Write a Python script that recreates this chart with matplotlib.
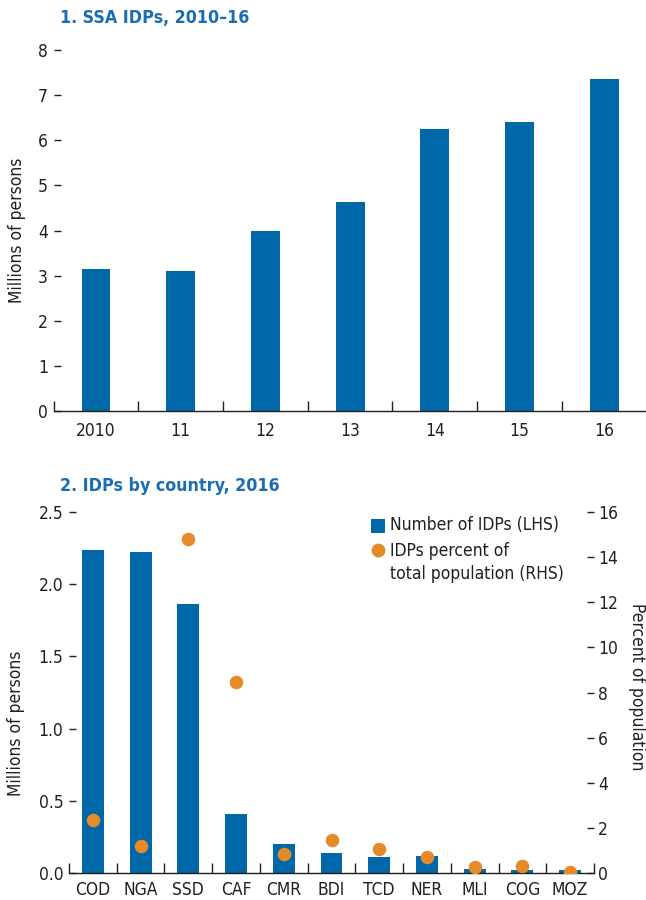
import matplotlib
matplotlib.use("Agg")
import matplotlib.pyplot as plt
import numpy as np

# Panel 1: SSA internally displaced persons, millions
years = ["2010", "11", "12", "13", "14", "15", "16"]
idps_total = [3.15, 3.10, 4.00, 4.63, 6.26, 6.40, 7.35]

# Panel 2: IDPs by country, 2016
countries = ["COD", "NGA", "SSD", "CAF", "CMR", "BDI", "TCD", "NER", "MLI", "COG", "MOZ"]
idps_millions = [2.24, 2.22, 1.86, 0.41, 0.20, 0.14, 0.11, 0.12, 0.03, 0.02, 0.02]
idps_percent = [2.35, 1.20, 14.8, 8.45, 0.85, 1.48, 1.05, 0.70, 0.25, 0.32, 0.05]

BLUE = "#0068a8"
ORANGE = "#e58a28"
TITLE = "#1a6db0"
TEXT = "#231f20"

plt.rcParams["font.family"] = ["DejaVu Sans"]
plt.rcParams["font.stretch"] = "condensed"
plt.rcParams["font.size"] = 12.5
plt.rcParams["text.color"] = TEXT
plt.rcParams["axes.labelcolor"] = TEXT
plt.rcParams["xtick.color"] = TEXT
plt.rcParams["ytick.color"] = TEXT

fig = plt.figure(figsize=(6.46, 9.0), dpi=100)


def style_axis(ax, n):
    for side in ("left", "right", "top"):
        ax.spines[side].set_visible(False)
    ax.spines["bottom"].set_color(TEXT)
    ax.spines["bottom"].set_linewidth(1.0)
    ax.set_xlim(-0.5, n - 0.5)
    # tick marks sit on category boundaries, labels under categories
    ax.set_xticks(np.arange(n + 1) - 0.5)
    ax.set_xticklabels([])
    ax.tick_params(axis="x", which="major", direction="in", length=7, width=1)
    ax.tick_params(axis="y", direction="in", length=5, width=1, pad=4)


# --- top panel ---
ax1 = fig.add_axes([53.6 / 646, 1 - 411 / 900, 593 / 646, 361 / 900])
x1 = np.arange(len(years))
ax1.bar(x1, idps_total, width=0.34, color=BLUE)
style_axis(ax1, len(years))
ax1.set_xticks(x1, minor=True)
ax1.set_xticklabels(years, minor=True)
ax1.tick_params(axis="x", which="minor", length=0, pad=8)
ax1.set_ylim(0, 8)
ax1.set_yticks(range(0, 9))
ax1.set_ylabel("Millions of persons")
ax1.yaxis.set_label_coords(-0.047, 0.5)
fig.text(60 / 646, 1 - 18 / 900, "1. SSA IDPs, 2010\u201316", color=TITLE,
         fontsize=12.8, fontweight="bold", ha="left", va="center")

# --- bottom panel ---
ax2 = fig.add_axes([69 / 646, 1 - 873 / 900, 525 / 646, 361 / 900])
x2 = np.arange(len(countries))
ax2.bar(x2, idps_millions, width=0.46, color=BLUE, zorder=2)
style_axis(ax2, len(countries))
ax2.set_xticks(x2, minor=True)
ax2.set_xticklabels(countries, minor=True)
ax2.tick_params(axis="x", which="minor", length=0, pad=6)
ax2.set_ylim(0, 2.5)
ax2.set_yticks(np.arange(0, 2.51, 0.5))
ax2.set_yticklabels([f"{v:.1f}" for v in np.arange(0, 2.51, 0.5)])
ax2.set_ylabel("Millions of persons")
ax2.yaxis.set_label_coords(-0.083, 0.415)

ax3 = ax2.twinx()
for side in ("left", "right", "top", "bottom"):
    ax3.spines[side].set_visible(False)
ax3.scatter(x2, idps_percent, s=95, color=ORANGE, zorder=3, linewidths=0)
ax3.set_ylim(0, 16)
ax3.set_yticks(range(0, 17, 2))
ax3.tick_params(axis="y", direction="in", length=5, width=1, pad=3)
ax3.set_ylabel("Percent of population", rotation=270, va="center")
ax3.yaxis.set_label_coords(1.081, 0.517)

fig.text(60 / 646, 1 - 486 / 900, "2. IDPs by country, 2016", color=TITLE,
         fontsize=12.8, fontweight="bold", ha="left", va="center")

# key, drawn by hand so the dot lines up with the first text line
ax2.plot([0.5895], [0.9626], marker="s", markersize=9.5, color=BLUE,
         markeredgewidth=0, transform=ax2.transAxes, clip_on=False)
ax2.text(0.6114, 0.9645, "Number of IDPs (LHS)", transform=ax2.transAxes,
         ha="left", va="center")
ax3.plot([0.5886], [0.8947], marker="o", markersize=10, color=ORANGE,
         markeredgewidth=0, transform=ax3.transAxes, clip_on=False)
ax3.text(0.6114, 0.8947 + 0.021, "IDPs percent of\ntotal population (RHS)",
         transform=ax3.transAxes, ha="left", va="top", linespacing=1.3)

fig.savefig("out.png", dpi=100)
